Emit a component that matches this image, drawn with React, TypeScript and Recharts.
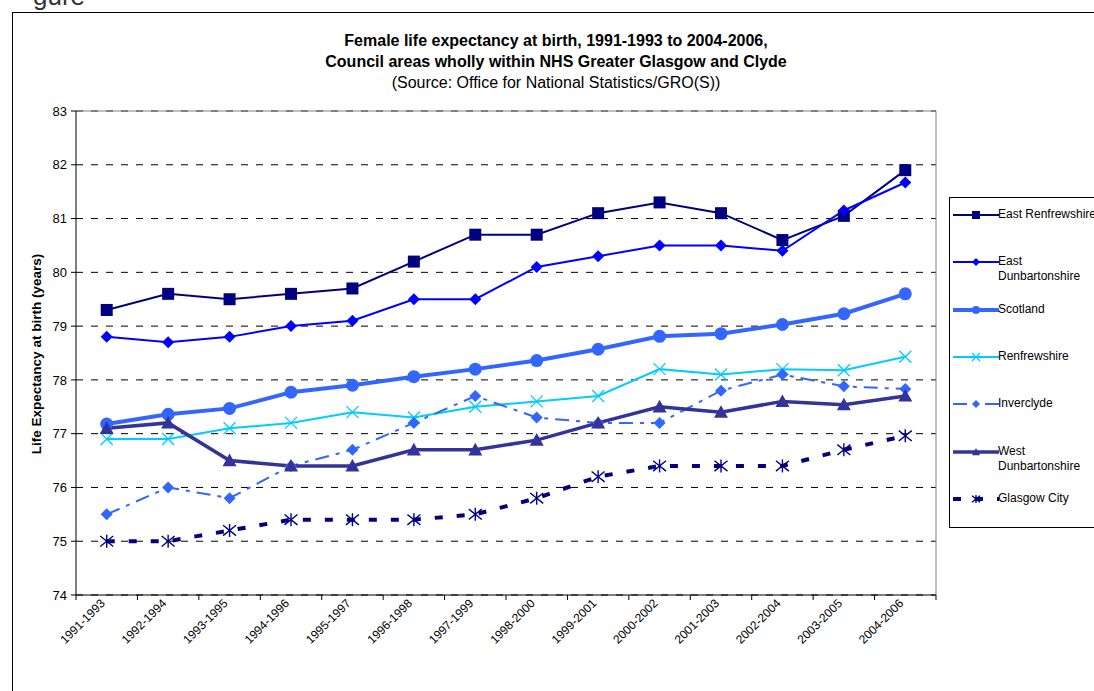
import React from 'react';
import { LineChart, Line, XAxis, YAxis, CartesianGrid, ReferenceLine } from 'recharts';

const categories = ['1991-1993', '1992-1994', '1993-1995', '1994-1996', '1995-1997', '1996-1998', '1997-1999', '1998-2000', '1999-2001', '2000-2002', '2001-2003', '2002-2004', '2003-2005', '2004-2006'];
const eastRenfrewshire = [79.3, 79.6, 79.5, 79.6, 79.7, 80.2, 80.7, 80.7, 81.1, 81.3, 81.1, 80.6, 81.05, 81.9];
const eastDunbartonshire = [78.8, 78.7, 78.8, 79.0, 79.1, 79.5, 79.5, 80.1, 80.3, 80.5, 80.5, 80.4, 81.15, 81.67];
const scotland = [77.18, 77.36, 77.47, 77.77, 77.9, 78.06, 78.2, 78.36, 78.57, 78.81, 78.86, 79.03, 79.23, 79.6];
const renfrewshire = [76.9, 76.9, 77.1, 77.2, 77.4, 77.3, 77.5, 77.6, 77.7, 78.2, 78.1, 78.2, 78.18, 78.43];
const inverclyde = [75.5, 76.0, 75.8, 76.4, 76.7, 77.2, 77.7, 77.3, 77.2, 77.2, 77.8, 78.1, 77.88, 77.83];
const westDunbartonshire = [77.1, 77.2, 76.5, 76.4, 76.4, 76.7, 76.7, 76.88, 77.2, 77.5, 77.4, 77.6, 77.54, 77.7];
const glasgowCity = [75.0, 75.0, 75.2, 75.4, 75.4, 75.4, 75.5, 75.8, 76.2, 76.4, 76.4, 76.4, 76.7, 76.96];
const yTicks = [74, 75, 76, 77, 78, 79, 80, 81, 82, 83];

const titleLines = [
  'Female life expectancy at birth, 1991-1993 to 2004-2006,',
  'Council areas wholly within NHS Greater Glasgow and Clyde',
  '(Source: Office for National Statistics/GRO(S))',
];
const yAxisTitle = 'Life Expectancy at birth (years)';

type Marker = 'square' | 'diamond' | 'circle' | 'x' | 'triangle' | 'asterisk';
interface Series {
  key: string;
  name: string[];
  values: number[];
  color: string;
  width: number;
  dash?: string;
  marker: Marker;
  size: number;
}

const series: Series[] = [
  { key: 'eastRenfrewshire', name: ['East Renfrewshire'], values: eastRenfrewshire, color: '#000080', width: 2, marker: 'square', size: 12 },
  { key: 'eastDunbartonshire', name: ['East', 'Dunbartonshire'], values: eastDunbartonshire, color: '#0000FF', width: 2, marker: 'diamond', size: 12 },
  { key: 'scotland', name: ['Scotland'], values: scotland, color: '#3366FF', width: 4, marker: 'circle', size: 13 },
  { key: 'renfrewshire', name: ['Renfrewshire'], values: renfrewshire, color: '#00CCFF', width: 2, marker: 'x', size: 12 },
  { key: 'inverclyde', name: ['Inverclyde'], values: inverclyde, color: '#3366FF', width: 2, dash: '14 7 4 7', marker: 'diamond', size: 12 },
  { key: 'westDunbartonshire', name: ['West', 'Dunbartonshire'], values: westDunbartonshire, color: '#333399', width: 3.5, marker: 'triangle', size: 14 },
  { key: 'glasgowCity', name: ['Glasgow City'], values: glasgowCity, color: '#000080', width: 4, dash: '8 14', marker: 'asterisk', size: 13 },
];

const data = categories.map((period, i) => {
  const row: Record<string, string | number> = { period };
  series.forEach((s) => {
    row[s.key] = s.values[i];
  });
  return row;
});

const FONT = '"Liberation Sans", Arial, sans-serif';

function markerShape(marker: Marker, cx: number, cy: number, size: number, color: string, key?: string) {
  const h = size / 2;
  switch (marker) {
    case 'square':
      return <rect key={key} x={cx - h} y={cy - h} width={size} height={size} fill={color} />;
    case 'diamond':
      return <polygon key={key} points={`${cx},${cy - h} ${cx + h},${cy} ${cx},${cy + h} ${cx - h},${cy}`} fill={color} />;
    case 'circle':
      return <circle key={key} cx={cx} cy={cy} r={h} fill={color} />;
    case 'x':
      return (
        <g key={key} stroke={color} strokeWidth={1.3}>
          <line x1={cx - h} y1={cy - h} x2={cx + h} y2={cy + h} />
          <line x1={cx - h} y1={cy + h} x2={cx + h} y2={cy - h} />
        </g>
      );
    case 'triangle':
      return <polygon key={key} points={`${cx},${cy - h} ${cx + h},${cy + h * 0.8} ${cx - h},${cy + h * 0.8}`} fill={color} />;
    case 'asterisk':
    default:
      return (
        <g key={key} stroke={color} strokeWidth={1.4}>
          <line x1={cx - h} y1={cy - h * 0.8} x2={cx + h} y2={cy + h * 0.8} />
          <line x1={cx - h} y1={cy + h * 0.8} x2={cx + h} y2={cy - h * 0.8} />
          <line x1={cx} y1={cy - h} x2={cx} y2={cy + h} />
        </g>
      );
  }
}

const makeDot = (s: Series) => (props: any) => {
  const { cx, cy, index } = props;
  if (cx == null || cy == null) return <g key={`d-${s.key}-${index}`} />;
  return markerShape(s.marker, cx, cy, s.size, s.color, `d-${s.key}-${index}`);
};

const XTick = (props: any) => {
  const { x, y, payload, index, visibleTicksCount } = props;
  const off = payload && typeof payload.offset === 'number' && payload.offset > 0 ? payload.offset : 30.7;
  const axisY = y - 5;
  const isLast = index === (visibleTicksCount ?? categories.length) - 1;
  const lx = x - 1;
  const ly = axisY + 9;
  return (
    <g>
      <line x1={x - off} x2={x - off} y1={axisY} y2={axisY + 5} stroke="#000" strokeWidth={1} />
      {isLast && <line x1={x + off} x2={x + off} y1={axisY} y2={axisY + 5} stroke="#000" strokeWidth={1} />}
      <text
        x={lx}
        y={ly}
        textAnchor="end"
        fontSize={12}
        fontFamily={FONT}
        fill="#000"
        transform={`rotate(-45 ${lx} ${ly})`}
      >
        {payload.value}
      </text>
    </g>
  );
};

const Legend = () => (
  <div
    style={{
      position: 'absolute',
      left: 949,
      top: 197,
      width: 300,
      height: 331,
      border: '1px solid #000',
      boxSizing: 'border-box',
      fontFamily: FONT,
      fontSize: 12,
      color: '#000',
    }}
  >
    {series.map((s, i) => {
      const cy = 17 + i * 47.3;
      return (
        <div key={s.key} style={{ position: 'absolute', left: 0, top: cy - 8, height: 30 }}>
          <svg width={50} height={16} style={{ position: 'absolute', left: 2, top: 0 }}>
            <line x1={1} x2={47} y1={8} y2={8} stroke={s.color} strokeWidth={s.width} strokeDasharray={s.dash} />
            {markerShape(s.marker, 24, 8, 8, s.color)}
          </svg>
          <div style={{ position: 'absolute', left: 48, top: 0, whiteSpace: 'nowrap', lineHeight: '15px' }}>
            {s.name.map((n, j) => (
              <div key={j}>{n}</div>
            ))}
          </div>
        </div>
      );
    })}
  </div>
);

export default function App() {
  return (
    <div style={{ position: 'fixed', left: 0, top: 0, width: 1094, height: 691, overflow: 'hidden', background: '#fff', fontFamily: FONT }}>
      <div
        style={{
          position: 'absolute',
          left: 33,
          top: -17,
          fontSize: 26,
          lineHeight: '26px',
          color: '#333',
          fontFamily: FONT,
          whiteSpace: 'nowrap',
        }}
      >
        gure
      </div>
      <div
        style={{
          position: 'absolute',
          left: 12,
          top: 12,
          width: 1200,
          height: 800,
          border: '1px solid #000',
          boxSizing: 'border-box',
        }}
      />
      {titleLines.map((t, i) => (
        <div
          key={i}
          style={{
            position: 'absolute',
            left: 0,
            width: 1112,
            top: 31 + i * 21,
            textAlign: 'center',
            fontSize: 16,
            lineHeight: '20px',
            fontWeight: i < 2 ? 'bold' : 'normal',
            color: '#000',
            whiteSpace: 'nowrap',
          }}
        >
          {t}
        </div>
      ))}
      <div
        style={{
          position: 'absolute',
          left: 36,
          top: 354,
          transform: 'translate(-50%, -50%) rotate(-90deg)',
          fontSize: 13.5,
          fontWeight: 'bold',
          whiteSpace: 'nowrap',
          color: '#000',
        }}
      >
        {yAxisTitle}
      </div>
      <div style={{ position: 'absolute', left: 0, top: 0 }}>
        <LineChart width={940} height={691} data={data} margin={{ top: 111, right: 3, bottom: 6, left: 46 }}>
          <CartesianGrid vertical={false} stroke="#000" strokeDasharray="7 8" xAxisId="main" yAxisId="main" />
          <XAxis
            dataKey="period"
            xAxisId="main"
            scale="band"
            interval={0}
            height={90}
            tickLine={false}
            tickSize={5}
            tickMargin={0}
            axisLine={{ stroke: '#000', strokeWidth: 1 }}
            tick={<XTick />}
          />
          <YAxis
            yAxisId="main"
            domain={[74, 83]}
            ticks={yTicks}
            interval={0}
            width={30}
            tickSize={5}
            tickMargin={4}
            axisLine={{ stroke: '#000', strokeWidth: 1 }}
            tickLine={{ stroke: '#000' }}
            tick={{ fontSize: 13, fill: '#000', fontFamily: FONT }}
            allowDecimals={false}
          />
          <YAxis yAxisId="right" orientation="right" domain={[74, 83]} width={1} tick={false} tickLine={false} axisLine={{ stroke: '#808080', strokeWidth: 1 }} />
          <ReferenceLine xAxisId="main" yAxisId="main" y={83} stroke="#808080" strokeWidth={1} />
          {series.map((s) => (
            <Line
              key={s.key}
              xAxisId="main"
              yAxisId="main"
              type="linear"
              dataKey={s.key}
              name={s.name.join(' ')}
              stroke={s.color}
              strokeWidth={s.width}
              strokeDasharray={s.dash}
              dot={makeDot(s)}
              activeDot={false}
              isAnimationActive={false}
            />
          ))}
        </LineChart>
      </div>
      <Legend />
    </div>
  );
}
